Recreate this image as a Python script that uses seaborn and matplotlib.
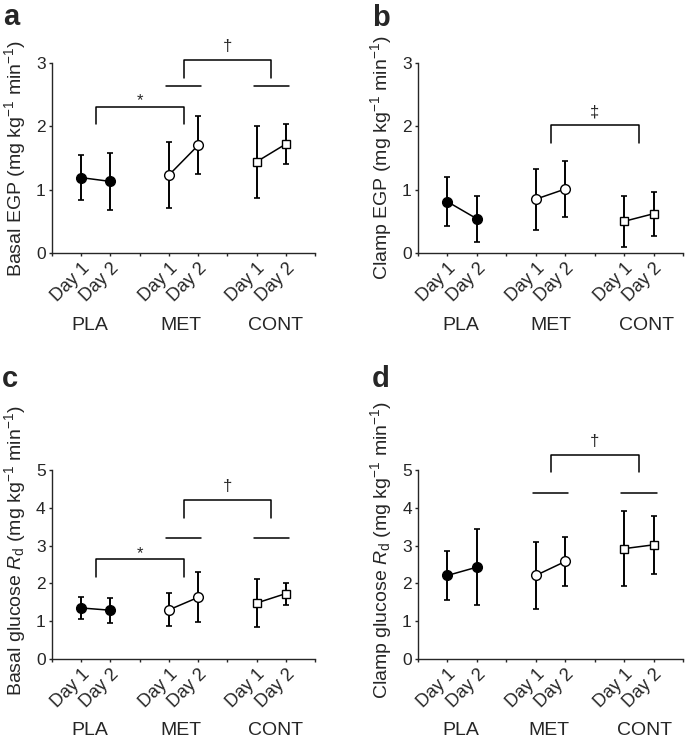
import numpy as np
import pandas as pd
import seaborn as sns
import matplotlib.pyplot as plt

sns.set_style("ticks")
plt.rcParams['font.family'] = ['Liberation Sans', 'DejaVu Sans']
plt.rcParams['mathtext.fontset'] = 'custom'
plt.rcParams['mathtext.rm'] = 'Liberation Sans'
plt.rcParams['mathtext.it'] = 'Liberation Sans:italic'
plt.rcParams['mathtext.bf'] = 'Liberation Sans:bold'

# categorias
groups = ["PLA", "MET", "CONT"]
days = ["Day 1", "Day 2"]

# medias y DE, orden: PLA d1, PLA d2, MET d1, MET d2, CONT d1, CONT d2
basal_egp_mean = [1.19, 1.13, 1.23, 1.70, 1.44, 1.72]
basal_egp_sd = [0.36, 0.45, 0.52, 0.46, 0.57, 0.31]
clamp_egp_mean = [0.81, 0.54, 0.85, 1.01, 0.50, 0.62]
clamp_egp_sd = [0.39, 0.36, 0.48, 0.44, 0.40, 0.35]
basal_rd_mean = [1.35, 1.29, 1.30, 1.63, 1.48, 1.73]
basal_rd_sd = [0.28, 0.33, 0.44, 0.66, 0.63, 0.29]
clamp_rd_mean = [2.21, 2.43, 2.21, 2.58, 2.92, 3.02]
clamp_rd_sd = [0.65, 1.01, 0.88, 0.66, 0.99, 0.77]

ylabels = ['Basal EGP (mg kg$^{-1}$ min$^{-1}$)',
           'Clamp EGP (mg kg$^{-1}$ min$^{-1}$)',
           'Basal glucose $R_{\\mathrm{d}}$ (mg kg$^{-1}$ min$^{-1}$)',
           'Clamp glucose $R_{\\mathrm{d}}$ (mg kg$^{-1}$ min$^{-1}$)']

# significancia: (x1, x2, altura, patas, simbolo) y lineas horizontales
brackets = [
    [(1.5, 4.5, 2.31, 2.03, '*'), (4.5, 7.5, 3.05, 2.76, '\u2020')],
    [(4.5, 7.5, 2.02, 1.74, '\u2021')],
    [(1.5, 4.5, 2.64, 2.17, '*'), (4.5, 7.5, 4.20, 3.74, '\u2020')],
    [(4.5, 7.5, 5.40, 4.94, '\u2020')],
]
bar_lines = [2.64, None, 3.21, 4.40]

def make_df(mean, sd):
    rows = []
    for gi, g in enumerate(groups):
        for di, d in enumerate(days):
            k = gi * 2 + di
            rows.append({"group": g, "day": d, "x": gi * 3 + di + 1,
                         "mean": mean[k], "sd": sd[k]})
    return pd.DataFrame(rows)

panels = [make_df(basal_egp_mean, basal_egp_sd),
          make_df(clamp_egp_mean, clamp_egp_sd),
          make_df(basal_rd_mean, basal_rd_sd),
          make_df(clamp_rd_mean, clamp_rd_sd)]
ymax = [3, 3, 5, 5]
letters = ['a', 'b', 'c', 'd']

W, H = 685, 745
fig = plt.figure(figsize=(W / 100, H / 100), dpi=100)
boxes = [(52, 253, 263, 190), (418, 253, 265, 190),
         (52, 659, 263, 189), (418, 659, 265, 189)]
letter_pos = [(3, 25), (372, 26), (2, 387), (372, 387)]
group_x = [[1.3, 4.4, 7.65], [1.46, 4.52, 7.75],
           [1.3, 4.4, 7.65], [1.46, 4.44, 7.7]]
label_y = [0.5, 0.5, 0.575, 0.575]

styles = {"PLA": ("o", "black", 7), "MET": ("o", "white", 7), "CONT": ("s", "white", 6)}

for i, df in enumerate(panels):
    l, b, w, h = boxes[i]
    ax = fig.add_axes([l / W, 1 - b / H, w / W, h / H])
    for g in groups:
        sub = df[df.group == g]
        ax.errorbar(sub.x, sub["mean"], yerr=sub["sd"], fmt='none', ecolor='black',
                    elinewidth=1.4, capsize=2.5, capthick=1.2, zorder=2, clip_on=False)
        m, fc, ms = styles[g]
        sns.lineplot(data=sub, x="x", y="mean", color="black", lw=1.1, marker=m,
                     markersize=ms, markerfacecolor=fc, markeredgecolor="black",
                     markeredgewidth=1, ax=ax, zorder=3, legend=False, clip_on=False)

    for x1, x2, top, leg, sym in brackets[i]:
        ax.plot([x1, x1, x2, x2], [leg, top, top, leg], color='black', lw=1.1, clip_on=False)
        off = 1 if sym == '*' else 6.5
        fs = 12 if sym == '*' else 12
        ax.annotate(sym, ((x1 + x2) / 2, top), xytext=(0, off), textcoords='offset points',
                    ha='center', va='baseline', fontsize=fs, annotation_clip=False)
    if bar_lines[i] is not None:
        for xc in (4.5, 7.5):
            ax.plot([xc - 0.6, xc + 0.6], [bar_lines[i]] * 2, color='black', lw=1.1, clip_on=False)

    ax.set_xlim(0, 9)
    ax.set_ylim(0, ymax[i])
    ax.set_yticks(range(ymax[i] + 1))
    ax.set_xticks(range(10))
    labs = [''] * 10
    for _, r in df.iterrows():
        labs[int(r.x)] = r.day
    ax.set_xticklabels(labs, rotation=45, ha='right', va='top', rotation_mode='anchor', fontsize=13)
    ax.tick_params(axis='x', length=2.5, width=1, pad=2.5)
    ax.tick_params(axis='y', length=2.5, width=1, pad=2, labelsize=12.5)
    for s in ('left', 'bottom'):
        ax.spines[s].set_linewidth(1)
    sns.despine(ax=ax)
    ax.set_xlabel('')
    ax.set_ylabel(ylabels[i], fontsize=14)
    ax.yaxis.set_label_coords(-24 / w, label_y[i])

    for gx, g in zip(group_x[i], groups):
        ax.text(gx, -0.38, g, transform=ax.get_xaxis_transform(), ha='center', va='center', fontsize=14)

    lx, ly = letter_pos[i]
    fig.text(lx / W, 1 - ly / H, letters[i], fontsize=21, fontweight='bold', ha='left', va='baseline')

fig.savefig("out.png", dpi=100)
